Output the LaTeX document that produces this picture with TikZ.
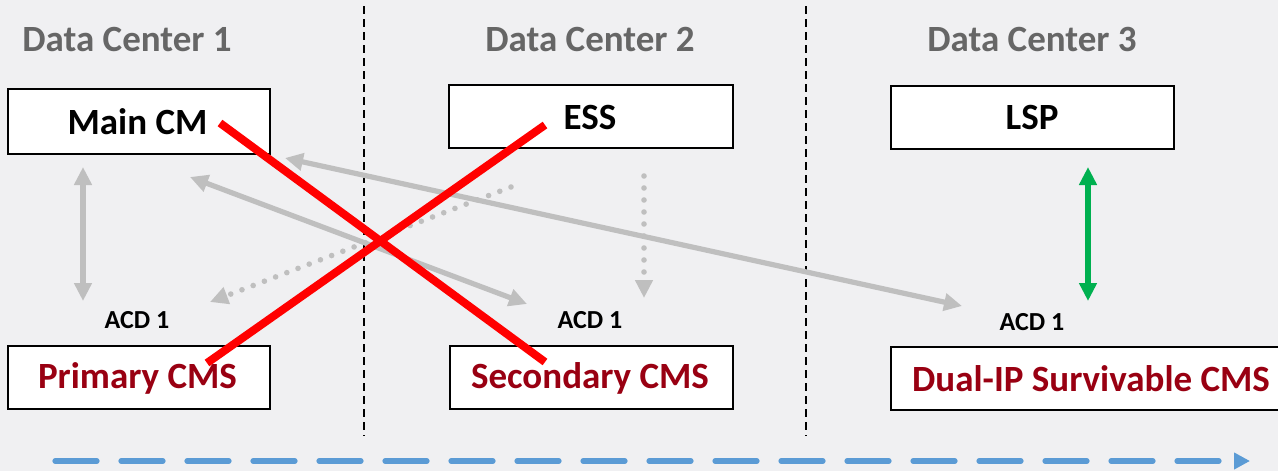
\documentclass[tikz,border=0pt]{standalone}
\usepackage{fontspec}
\setmainfont{Carlito}
\usetikzlibrary{arrows.meta}
\definecolor{bg}{HTML}{F0F0F2}
\definecolor{titlegray}{HTML}{666666}
\definecolor{arrgray}{HTML}{BFBFBF}
\definecolor{darkred}{HTML}{990012}
\definecolor{xred}{HTML}{FF0000}
\definecolor{okgreen}{HTML}{00B050}
\definecolor{flowblue}{HTML}{5B9BD5}
\begin{document}
\begin{tikzpicture}[x=0.5pt,y=-0.5pt,
  title/.style={font=\bfseries\fontsize{18.5}{22}\selectfont, text=titlegray},
  sysbox/.style={draw=black, line width=1pt, fill=white, anchor=north west, inner sep=0pt},
  boxtext/.style={font=\bfseries\fontsize{18.5}{22}\selectfont},
  acd/.style={font=\bfseries\fontsize{13}{15}\selectfont},
  sep/.style={draw=black, line width=0.8pt, dash pattern=on 4pt off 2.5pt},
  link/.style={draw=arrgray, line width=2.6pt, {Triangle[length=9pt,width=8.5pt]}-{Triangle[length=9pt,width=8.5pt]}},
  dotlink/.style={draw=arrgray, line width=2.8pt, line cap=round, dash pattern=on 0pt off 6pt, -{Triangle[length=9pt,width=8.5pt]}},
  greenlink/.style={draw=okgreen, line width=2.6pt, {Triangle[length=9pt,width=8.5pt]}-{Triangle[length=9pt,width=8.5pt]}},
  cross/.style={draw=xred, line width=4pt},
  flow/.style={draw=flowblue, line width=2.6pt, line cap=round, dash pattern=on 21pt off 12pt, -{Triangle[length=8pt,width=8pt]}}
]
\useasboundingbox (0,0) rectangle (1278,471);
\fill[bg] (0,0) rectangle (1278,471);

% titles
\node[title] (t1) at (127,40) {Data Center 1};
\node[title] (t2) at (590,40) {Data Center 2};
\node[title] (t3) at (1032,40) {Data Center 3};

% separators
\coordinate (s1a) at (364,6);
\coordinate (s1b) at (364,436);
\coordinate (s2a) at (806,6);
\coordinate (s2b) at (806,436);
\draw[sep] (s1a) -- (s1b);
\draw[sep] (s2a) -- (s2b);

% boxes
\node[sysbox, minimum width=131pt, minimum height=32.5pt] (maincm) at (7,88) {};
\node[boxtext] at (137.5,122) {Main CM};
\node[sysbox, minimum width=142pt, minimum height=31.5pt] (ess) at (448,84) {};
\node[boxtext] at (590,117) {ESS};
\node[sysbox, minimum width=141.5pt, minimum height=31.5pt] (lsp) at (890,85) {};
\node[boxtext] at (1032,117) {LSP};

\node[sysbox, minimum width=131pt, minimum height=31.5pt] (pcms) at (7,345) {};
\node[boxtext, text=darkred] at (137.5,378) {Primary CMS};
\node[sysbox, minimum width=141.5pt, minimum height=31.5pt] (scms) at (449,345) {};
\node[boxtext, text=darkred] at (590,378) {Secondary CMS};
\node[sysbox, minimum width=210pt, minimum height=31.5pt] (dcms) at (890,346) {};
\node[boxtext, text=darkred] at (1091,379) {Dual-IP Survivable CMS};

% ACD labels
\node[acd] (acd1) at (137,320) {ACD 1};
\node[acd] (acd2) at (590,320) {ACD 1};
\node[acd] (acd3) at (1032,322) {ACD 1};

% arrow end points
\coordinate (m1) at (83,167);
\coordinate (p1) at (83,301);
\coordinate (m2) at (190,177);
\coordinate (s2) at (527,304);
\coordinate (m3) at (285,158);
\coordinate (d3) at (962,306);
\coordinate (e1) at (511,187);
\coordinate (p2) at (210,302);
\coordinate (e2) at (644,176);
\coordinate (s3) at (644,298);
\coordinate (l1) at (1088,167);
\coordinate (d1) at (1088,301);

\draw[link] (m1) -- (p1);
\draw[link] (m2) -- (s2);
\draw[link] (m3) -- (d3);
\draw[dotlink] (e1) -- (p2);
\draw[dotlink] (e2) -- (s3);
\draw[greenlink] (l1) -- (d1);

% red crosses
\coordinate (x1a) at (220,123);
\coordinate (x1b) at (545,362);
\coordinate (x2a) at (207,363);
\coordinate (x2b) at (545,125);
\draw[cross] (x1a) -- (x1b);
\draw[cross] (x2a) -- (x2b);

% time flow
\coordinate (f1) at (55,461);
\coordinate (f2) at (1250,461);
\draw[flow] (f1) -- (f2);
\end{tikzpicture}
\end{document}
